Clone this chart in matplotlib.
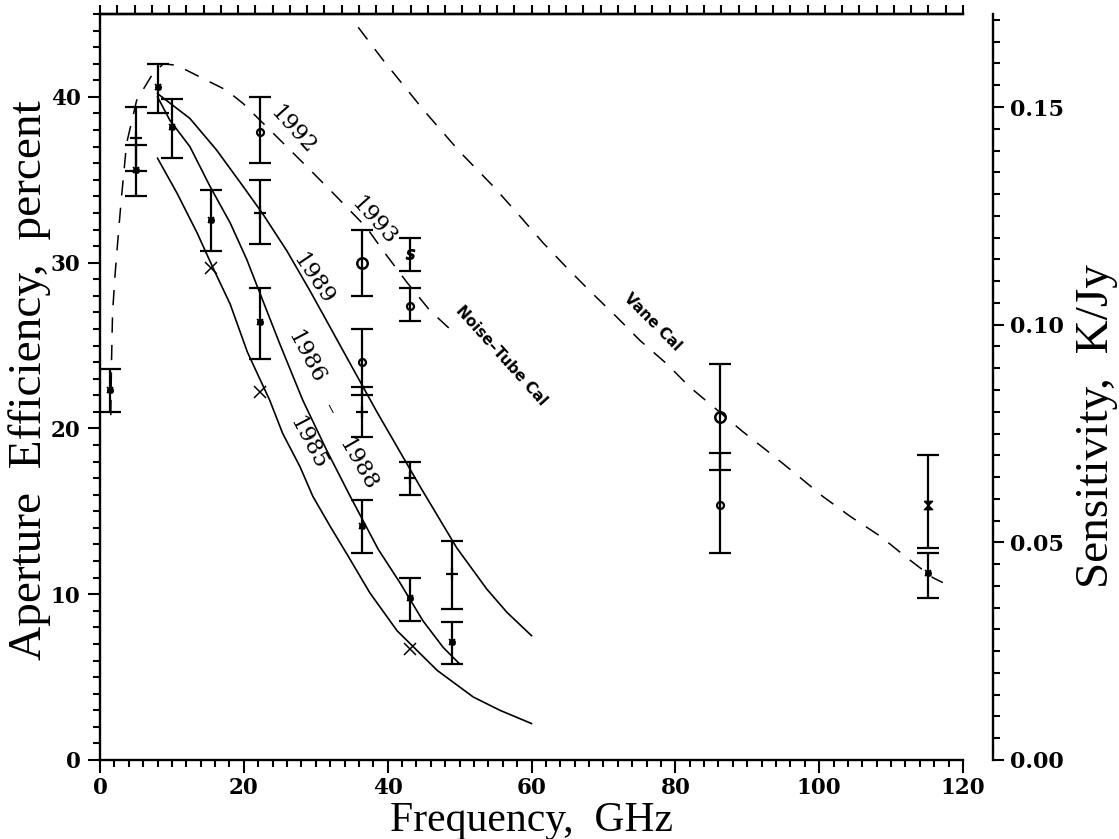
import numpy as np
import matplotlib.pyplot as plt
from matplotlib.ticker import MultipleLocator

# dashed calibration curves
nt_freq = [1.5, 1.6, 1.75, 2.1, 2.6, 3.0, 3.7, 5.1, 7.2, 8.8, 10.7, 13.9, 17.6, 19.9,
           22.7, 25.5, 29.2, 32.4, 37.1, 39.4, 42.7, 45.9, 49.4]
nt_eff = [20.8, 24.0, 27.0, 29.3, 32.0, 34.0, 37.2, 39.8, 41.3, 42.0, 41.9, 41.2, 40.4, 39.6,
          38.4, 37.2, 35.6, 34.2, 32.1, 30.7, 28.8, 27.1, 25.7]
vane_freq = [35.9, 39.4, 45.0, 50.0, 54.7, 58.4, 61.6, 64.9, 68.1, 71.9, 75.1, 78.8, 82.0,
             85.3, 89.4, 93.2, 96.9, 100.5, 104.3, 108.5, 112.2, 115.8, 117.2]
vane_eff = [44.2, 42.2, 39.2, 36.7, 34.6, 32.8, 31.2, 29.7, 28.3, 26.7, 25.3, 23.9, 22.5,
            21.3, 19.8, 18.5, 17.2, 15.9, 14.7, 13.5, 12.2, 11.0, 10.7]

# solid model curves
f1989 = [8.0, 12.5, 16.2, 19.9, 22.7, 26.0, 29.2, 31.5, 34.8, 38.5, 41.7, 44.5, 49.6, 53.8, 56.6, 60.0]
e1989 = [40.2, 38.7, 36.8, 34.6, 32.9, 30.7, 28.3, 26.5, 23.9, 21.0, 18.6, 16.5, 12.8, 10.3, 8.9, 7.5]
f1988 = [8.0, 9.7, 12.5, 15.3, 18.1, 20.4, 22.2, 25.0, 28.2, 31.5, 34.8, 38.7, 41.7, 44.9, 47.7, 50.0]
e1988 = [40.0, 38.6, 37.0, 34.6, 32.4, 30.2, 28.2, 25.1, 21.7, 18.7, 15.9, 12.7, 10.7, 8.4, 6.8, 5.8]
f1985 = [8.0, 10.7, 13.5, 15.7, 18.1, 20.5, 23.6, 25.4, 27.8, 29.6, 32.0, 34.5, 37.5, 41.3,
         46.9, 51.9, 55.6, 60.0]
e1985 = [36.3, 34.2, 31.8, 29.7, 27.5, 24.6, 21.7, 19.7, 17.7, 15.9, 14.1, 12.3, 10.1, 7.8,
         5.4, 3.8, 3.0, 2.2]

# measurements with error bars
pt_freq = [1.4, 5.0, 5.0, 8.0, 10.0, 15.4, 22.2, 22.2, 22.2, 36.5, 36.5, 36.5, 36.5,
           43.1, 43.1, 43.1, 43.1, 49.0, 49.0, 86.2, 86.2, 115.1, 115.1]
pt_eff = [22.3, 37.5, 35.6, 40.6, 38.2, 32.6, 37.9, 33.0, 26.4, 30.0, 24.0, 21.0, 14.1,
          30.5, 27.4, 17.0, 9.8, 11.2, 7.1, 20.7, 15.4, 15.4, 11.3]
pt_lo = [21.0, 35.5, 34.0, 39.0, 36.3, 30.7, 36.0, 31.1, 24.2, 28.0, 22.0, 19.5, 12.5,
         29.5, 26.5, 16.0, 8.4, 9.1, 5.8, 17.5, 12.5, 12.8, 9.8]
pt_hi = [23.6, 39.4, 37.1, 42.0, 39.9, 34.4, 40.0, 35.0, 28.5, 32.0, 26.0, 22.5, 15.7,
         31.5, 28.5, 18.0, 11.0, 13.2, 8.3, 23.9, 18.5, 18.4, 12.5]
pt_mark = ['*', '+', '*', '*', '*', '*', 'o', '+', '*', 'O', 'o', '+', '*',
           's', 'o', '+', '*', '+', '*', 'O', 'o', 'hg', '*']

# unbarred 1985 points
x_freq = [15.4, 22.2, 43.1]
x_eff = [29.7, 22.2, 6.7]

fig = plt.figure(figsize=(11.19, 8.39), dpi=100)
ax = fig.add_axes([100/1119, 1-760/839, 863/1119, 746/839])

ax.plot(nt_freq, nt_eff, color='k', lw=1.1, dashes=(10, 8))
ax.plot(vane_freq, vane_eff, color='k', lw=1.1, dashes=(10, 8))
for f, e in [(f1989, e1989), (f1988, e1988), (f1985, e1985)]:
    ax.plot(f, e, color='k', lw=1.2)

for f, e, lo, hi, m in zip(pt_freq, pt_eff, pt_lo, pt_hi, pt_mark):
    ax.errorbar([f], [(lo+hi)/2], yerr=[(hi-lo)/2], fmt='none', ecolor='k',
                elinewidth=1.6, capsize=8, capthick=1.6)
    if m == 'o':
        ax.plot(f, e, 'o', mfc='none', mec='k', ms=5, mew=1.6)
    elif m == 'O':
        ax.plot(f, e, 'o', mfc='none', mec='k', ms=7.5, mew=1.8)
    elif m == '+':
        ax.plot(f, e, '+', color='k', ms=8, mew=1.6)
    elif m == 's':
        ax.plot(f, e, marker='$s$', color='k', ms=7)
    elif m == 'hg':
        ax.plot(f, e, marker=[(-1, 1), (1, 1), (-1, -1), (1, -1), (-1, 1)], color='k', ms=6)
    else:
        ax.plot(f, e, 'o', color='k', ms=4)
        ax.plot(f, e, 'x', color='k', ms=5, mew=1.2)
ax.plot(x_freq, x_eff, 'x', color='k', ms=9, mew=1.1)

ax.set_xlim(0, 120)
ax.set_ylim(0, 45)
ax.xaxis.set_major_locator(MultipleLocator(20))
ax.xaxis.set_minor_locator(MultipleLocator(2))
ax.yaxis.set_major_locator(MultipleLocator(10))
ax.yaxis.set_minor_locator(MultipleLocator(1))
for s in ['left', 'bottom', 'top']:
    ax.spines[s].set_linewidth(1.7)
ax.spines['right'].set_visible(False)
ax.tick_params(which='both', direction='out', width=1.5, top=False, right=False)
ax.tick_params(which='major', length=9, pad=3)
ax.tick_params(which='minor', length=5)
ax.tick_params(axis='y', which='major', pad=5)
for lab in ax.get_xticklabels() + ax.get_yticklabels():
    lab.set_fontfamily('DejaVu Serif')
    lab.set_fontweight('bold')
    lab.set_fontsize(15.5)

top = ax.secondary_xaxis('top')
top.set_xticks(np.linspace(0, 120, 51))
top.set_xticklabels([])
top.tick_params(direction='out', length=6.5, width=1.5)
top.spines['top'].set_linewidth(1.7)

# sensitivity axis
ax2 = ax.twinx()
ax2.set_ylim(0, 45*0.05/13.13)
ax2.spines['right'].set_position(('axes', 893/863))
ax2.spines['right'].set_linewidth(1.7)
for s in ['left', 'bottom', 'top']:
    ax2.spines[s].set_visible(False)
ax2.yaxis.set_major_locator(MultipleLocator(0.05))
ax2.yaxis.set_minor_locator(MultipleLocator(0.005))
ax2.set_yticks([0, 0.05, 0.10, 0.15], ['0.00', '0.05', '0.10', '0.15'])
ax2.tick_params(which='both', direction='out', width=1.5)
ax2.tick_params(which='major', length=8, pad=4)
ax2.tick_params(which='minor', length=5)
for lab in ax2.get_yticklabels():
    lab.set_fontfamily('DejaVu Serif')
    lab.set_fontweight('bold')
    lab.set_fontsize(16)

lab_font = dict(family='Liberation Serif', fontsize=34)
fig.text(30/1119, 1-380/839, 'Aperture  Efficiency,  percent', rotation=90,
         ha='center', va='center', **lab_font)
fig.text(1097/1119, 1-426/839, 'Sensitivity,  K/Jy', rotation=90,
         ha='center', va='center', **lab_font)
fig.text(531/1119, 1-831/839, 'Frequency,  GHz', ha='center', va='baseline',
         family='Liberation Serif', fontsize=30)

yr_font = dict(family='DejaVu Serif', fontsize=16, ha='center', va='center',
               rotation_mode='anchor')
ax.text(26.8, 38.0, '1992', rotation=-48, **yr_font)
ax.text(38.0, 32.5, '1993', rotation=-48, **yr_font)
ax.text(29.6, 29.0, '1989', rotation=-56, **yr_font)
ax.text(28.6, 24.3, '1986', rotation=-62, **yr_font)
ax.text(31.8, 21.1, '\u2013', rotation=-62, **yr_font)
ax.text(35.8, 17.8, '1988', rotation=-60, **yr_font)
ax.text(28.9, 19.1, '1985', rotation=-62, **yr_font)

cal_font = dict(family='DejaVu Sans', fontweight='bold', fontsize=11, ha='center',
                va='center', rotation_mode='anchor')
ax.text(55.8, 24.4, 'Noise\u2013Tube Cal', rotation=-48, **cal_font)
ax.text(76.8, 26.4, 'Vane Cal', rotation=-45, **cal_font)

fig.savefig('out.png', dpi=100)
